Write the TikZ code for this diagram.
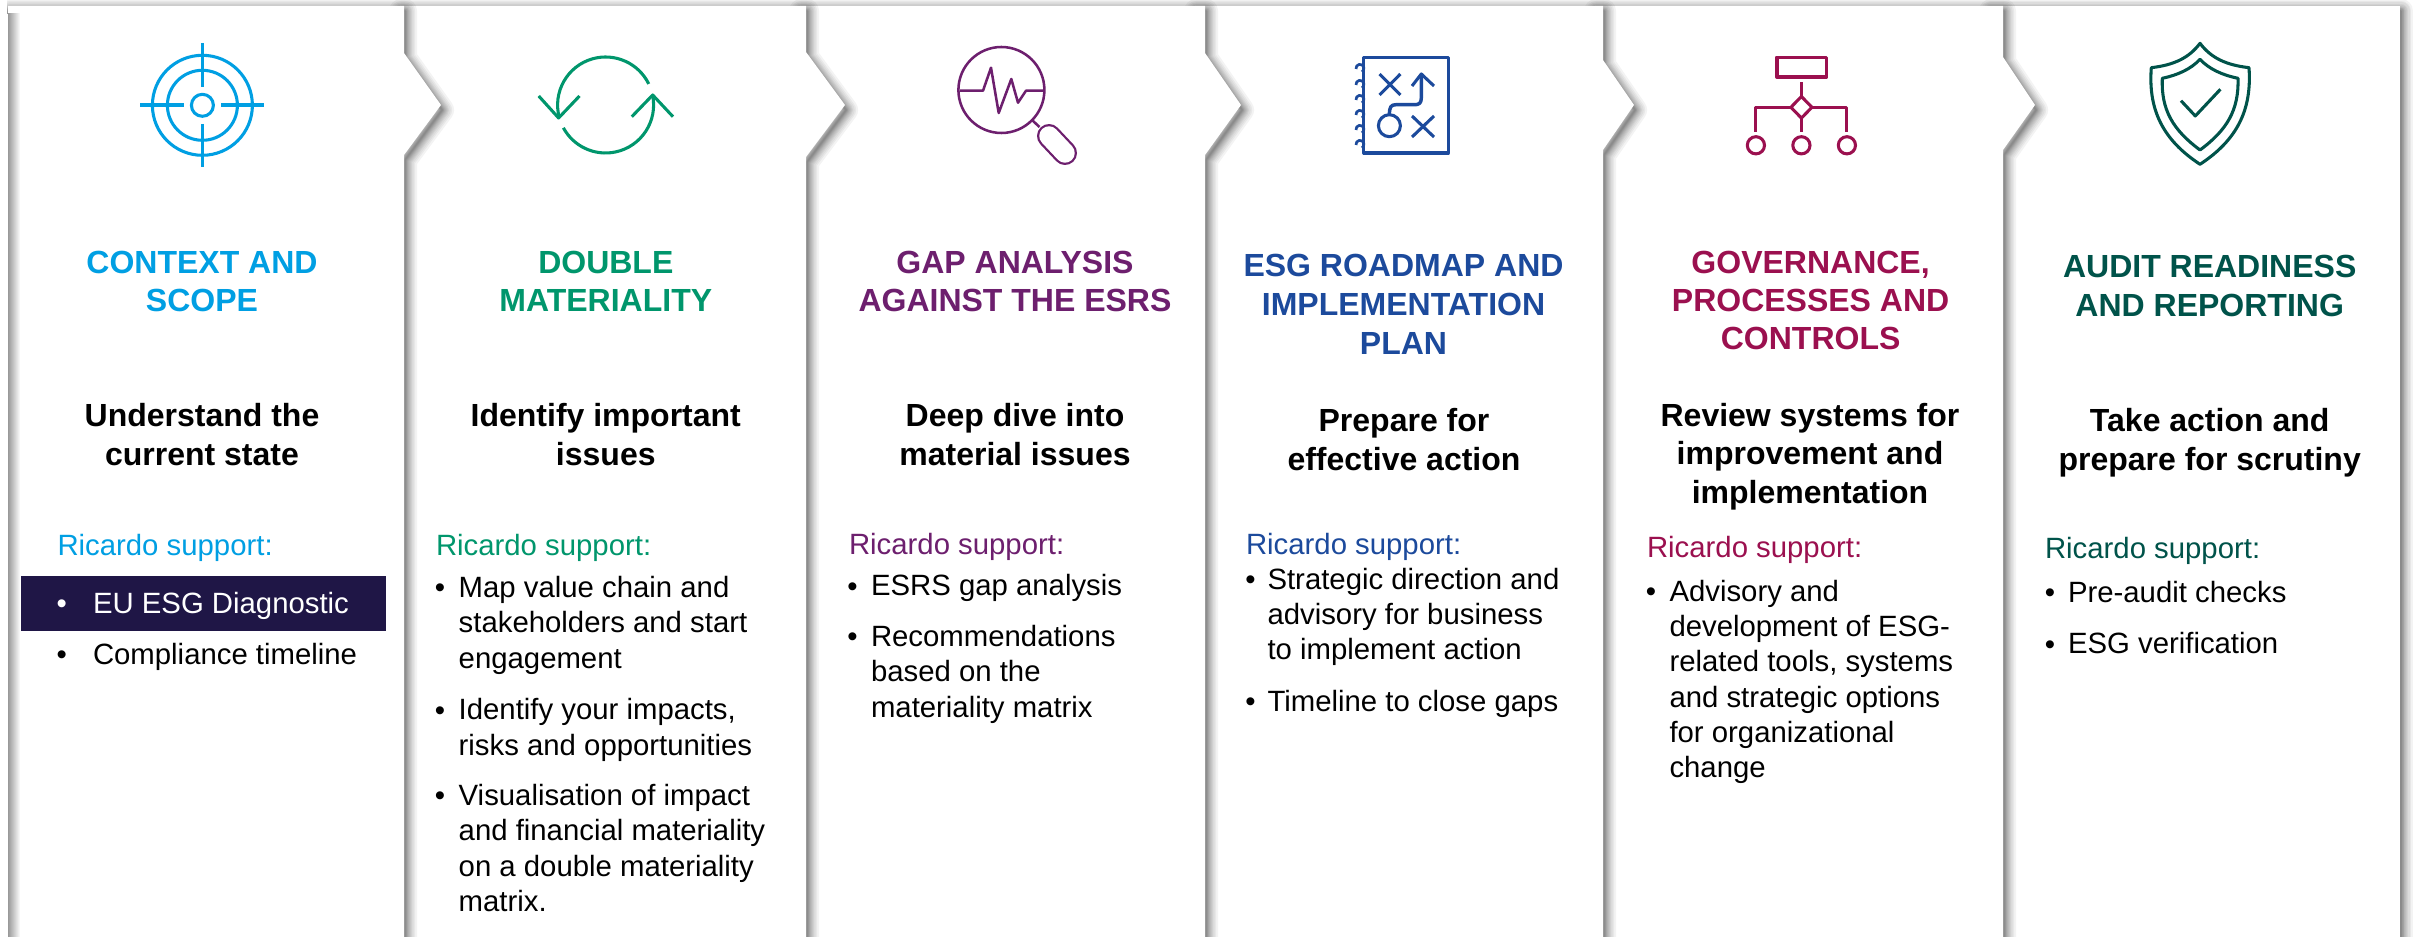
\documentclass[tikz,border=0pt]{standalone}
\usepackage{fontspec}
\setmainfont{Liberation Sans}
\definecolor{cA}{HTML}{009FE3}
\definecolor{cB}{HTML}{00966C}
\definecolor{cC}{HTML}{6D1F6E}
\definecolor{cD}{HTML}{1C4A9C}
\definecolor{cE}{HTML}{9B104F}
\definecolor{cF}{HTML}{00534A}
\definecolor{navyband}{HTML}{1F1646}
\newcommand{\st}{\strut}
\tikzset{
  x=0.75pt,y=0.75pt,
  txtbase/.style={inner sep=0pt,outer sep=0pt},
  ttl/.style={txtbase,anchor=north,align=center,yshift=19.2pt,font=\fontsize{24}{28.5}\selectfont\bfseries},
  ttlwide/.style={txtbase,anchor=north,align=center,yshift=19.55pt,font=\fontsize{24}{29.2}\selectfont\bfseries},
  subt/.style={txtbase,anchor=north,align=center,yshift=19.7pt,font=\fontsize{24}{29.25}\selectfont\bfseries},
  subtb/.style={txtbase,anchor=north,align=center,yshift=19.5pt,font=\fontsize{24}{28.8}\selectfont\bfseries},
  ric/.style={txtbase,anchor=base west,yshift=-1.1pt,font=\fontsize{22}{26.25}\selectfont},
  bul/.style={txtbase,anchor=base,font=\fontsize{22}{26.25}\selectfont},
  itm/.style={txtbase,anchor=north west,align=left,yshift=18.5pt,font=\fontsize{22}{26.4}\selectfont},
  icon/.style={line width=2.3pt,line join=round},
  iconthin/.style={line width=1.9pt,line join=round},
}
\begin{document}
\begin{tikzpicture}
\useasboundingbox (0,0) rectangle (2417,-937);
\clip (0,0) rectangle (2417,-937);
\fill[white] (0,0) rectangle (2417,-937);
% panels from right to left, each with its soft shadow
\foreach \lx/\rx/\ya/\yb/\tip in {1990/2400/0/0/0,1595/2003/57/150/2035,1195/1603/60/150/1634,800/1205/53/155/1241,400/806/52/157/845,8/404/53/155/441}{
  \ifnum\tip=0
    \def\pth{(\lx,-6) -- (\rx,-6) -- (\rx,-960) -- (\lx,-960) -- cycle}
  \else
    \def\pth{(\lx,-6) -- (\rx,-6) -- (\rx,-\ya) -- (\tip,-105) -- (\rx,-\yb) -- (\rx,-960) -- (\lx,-960) -- cycle}
  \fi
  \foreach \k in {12,10,8.5,7,6,5,4,3.2,2.5,1.8,1.2,0.6}{
    \draw[black,opacity=0.047,line width=1.5*\k pt,line join=round,xshift=0.8pt,yshift=-3.75pt] \pth;
  }
  \fill[white] \pth;
}
% left margin and left edge shadow of the first panel
\fill[white] (0,-14) rectangle (8,-937);
\fill[white] (0,0) rectangle (7,-14);
\shade[left color=black!40,right color=white] (8,-14) rectangle (20,-937);
\fill[navyband] (21,-576) rectangle (386,-631);

% icon 1: target
\begin{scope}[cA,icon]
\draw (202.4,-105.3) circle[radius=50];
\draw (202.4,-105.3) circle[radius=35];
\draw (202.4,-105.3) circle[radius=11];
\draw[line width=2.8pt] (202.4,-43) -- (202.4,-87) (202.4,-124) -- (202.4,-167);
\draw[line width=2.8pt] (140,-105.3) -- (184,-105.3) (221,-105.3) -- (264,-105.3);
\end{scope}
% icon 2: cycle arrows
\begin{scope}[cB,icon]
\draw (605.6,-105) ++(195.5:48) arc[start angle=195.5,end angle=26,radius=48];
\draw (605.6,-105) ++(12:48) arc[start angle=12,end angle=-151.6,radius=48];
\draw (538.7,-96) -- (558.6,-118) -- (579.5,-96);
\draw (631.8,-116.7) -- (652.7,-95) -- (673,-116.7);
\end{scope}
% icon 3: magnifier with pulse
\begin{scope}[cC,iconthin]
\draw (1001.4,-90) circle[radius=43];
\draw (959.5,-90.7) -- (983,-90.7) -- (991,-67.7) -- (998.7,-113) -- (1011.3,-79) -- (1018,-102.7) -- (1026,-90.7) -- (1044,-90.7);
\draw (1032.7,-120.7) -- (1039.5,-127);
\draw[line width=18pt,line cap=round] (1049,-136) -- (1065,-153);
\draw[white,line width=14.6pt,line cap=round] (1049,-136) -- (1065,-153);
\end{scope}
% icon 4: notebook plan
\begin{scope}[cD,icon]
\draw (1363.8,-57.7) rectangle (1448.5,-153);
\foreach \yy in {69,85,100,115,130,145}{
  \draw[line width=2pt] (1356,-\yy) arc[start angle=190,end angle=-60,radius=4];
}
\draw (1379.5,-74) -- (1400.4,-95) (1400.4,-74) -- (1379.5,-95);
\draw (1412,-116) -- (1434,-137) (1434,-116) -- (1412,-137);
\draw (1412,-86) -- (1421.3,-74) -- (1434,-86);
\draw[line width=2.6pt] (1421.3,-74) -- (1421.3,-98) .. controls (1421.3,-103) and (1419,-104.7) .. (1415,-104.7) -- (1396,-104.7) .. controls (1391,-104.7) and (1389.4,-107) .. (1389.4,-114.5);
\draw (1389.4,-125.7) circle[radius=11];
\end{scope}
% icon 5: org chart
\begin{scope}[cE,icon]
\draw[line width=2.6pt] (1776.8,-57.3) rectangle (1826.5,-77);
\draw (1801.4,-82.3) -- (1801.4,-96.5);
\draw (1801.4,-96.5) -- (1811.9,-107.3) -- (1801.4,-118.1) -- (1790.9,-107.3) -- cycle;
\draw (1790.9,-107.3) -- (1755.9,-107.3) -- (1755.9,-131.7);
\draw (1811.9,-107.3) -- (1846.9,-107.3) -- (1846.9,-131.7);
\draw (1801.4,-118.1) -- (1801.4,-131.7);
\draw (1755.9,-145.3) circle[radius=8.6];
\draw (1801.4,-145.3) circle[radius=8.6];
\draw (1846.9,-145.3) circle[radius=8.6];
\end{scope}
% icon 6: shield
\begin{scope}[cF,icon,xshift=-1.5pt]
\draw (2202,-43.3) .. controls (2191,-58) and (2176,-65) .. (2153.3,-67.7) .. controls (2150,-110) and (2165,-140) .. (2202,-164.3) .. controls (2239,-140) and (2254,-110) .. (2251,-67.7) .. controls (2228,-65) and (2213,-58) .. cycle;
\draw (2202,-59.3) .. controls (2193,-69) and (2180,-75) .. (2164.3,-78.3) .. controls (2163,-110) and (2175,-130) .. (2202,-150) .. controls (2229,-130) and (2241,-110) .. (2240,-78.3) .. controls (2224,-75) and (2211,-69) .. cycle;
\draw (2183,-100.7) -- (2197.3,-116) -- (2222.4,-89.3);
\end{scope}

% titles
\node[ttl,text=cA] (t1) at (202,-273) {\st CONTEXT AND\\SCOPE};
\node[ttl,text=cB] (t2) at (605.8,-273) {\st DOUBLE\\MATERIALITY};
\node[ttl,text=cC] (t3) at (1015,-272.7) {\st GAP ANALYSIS\\AGAINST THE ESRS};
\node[ttlwide,text=cD] (t4) at (1403.5,-275.7) {\st ESG ROADMAP AND\\IMPLEMENTATION\\PLAN};
\node[ttl,text=cE] (t5) at (1810.6,-273) {\st GOVERNANCE,\\PROCESSES AND\\CONTROLS};
\node[ttlwide,text=cF] (t6) at (2209.7,-276) {\st AUDIT READINESS\\AND REPORTING};
% subtitles
\node[subt] (s1) at (202,-425.5) {\st Understand the\\current state};
\node[subt] (s2) at (605.8,-425.5) {\st Identify important\\issues};
\node[subt] (s3) at (1015,-425) {\st Deep dive into\\material issues};
\node[subt] (s4) at (1404,-430) {\st Prepare for\\effective action};
\node[subtb] (s5) at (1810,-425.6) {\st Review systems for\\improvement and\\implementation};
\node[subt] (s6) at (2209.7,-430.7) {\st Take action and\\prepare for scrutiny};
% support heads
\node[ric,text=cA] (r1) at (57.5,-554) {Ricardo support:};
\node[ric,text=cB] (r2) at (436,-554) {Ricardo support:};
\node[ric,text=cC] (r3) at (849,-552.7) {Ricardo support:};
\node[ric,text=cD] (r4) at (1246,-553.5) {Ricardo support:};
\node[ric,text=cE] (r5) at (1647,-555.8) {Ricardo support:};
\node[ric,text=cF] (r6) at (2045,-557.5) {Ricardo support:};
% items
\node[bul,text=white] (b1a) at (61.7,-614) {•};
\node[itm,text=white] (i1a) at (93,-614) {\st EU ESG Diagnostic};
\node[bul] (b1b) at (61.7,-664.7) {•};
\node[itm] (i1b) at (93,-664.7) {\st Compliance timeline};
\node[bul] (b2a) at (440,-597.7) {•};
\node[itm] (i2a) at (458.7,-597.7) {\st Map value chain and\\stakeholders and start\\engagement};
\node[bul] (b2b) at (440,-720) {•};
\node[itm] (i2b) at (458.7,-720) {\st Identify your impacts,\\risks and opportunities};
\node[bul] (b2c) at (440,-805.7) {•};
\node[itm] (i2c) at (458.7,-805.7) {\st Visualisation of impact\\and financial materiality\\on a double materiality\\matrix.};
\node[bul] (b3a) at (852.5,-596) {•};
\node[itm] (i3a) at (871,-596) {\st ESRS gap analysis};
\node[bul] (b3b) at (852.5,-646.7) {•};
\node[itm] (i3b) at (871,-646.7) {\st Recommendations\\based on the\\materiality matrix};
\node[bul] (b4a) at (1250.5,-589.3) {•};
\node[itm] (i4a) at (1267.5,-589.3) {\st Strategic direction and\\advisory for business\\to implement action};
\node[bul] (b4b) at (1250.5,-711.7) {•};
\node[itm] (i4b) at (1267.5,-711.7) {\st Timeline to close gaps};
\node[bul] (b5a) at (1651,-601.6) {•};
\node[itm] (i5a) at (1669.5,-601.6) {\st Advisory and\\development of ESG-\\related tools, systems\\and strategic options\\for organizational\\change};
\node[bul] (b6a) at (2050,-602.4) {•};
\node[itm] (i6a) at (2068,-602.4) {\st Pre-audit checks};
\node[bul] (b6b) at (2050,-654) {•};
\node[itm] (i6b) at (2068,-654) {\st ESG verification};
\end{tikzpicture}
\end{document}
